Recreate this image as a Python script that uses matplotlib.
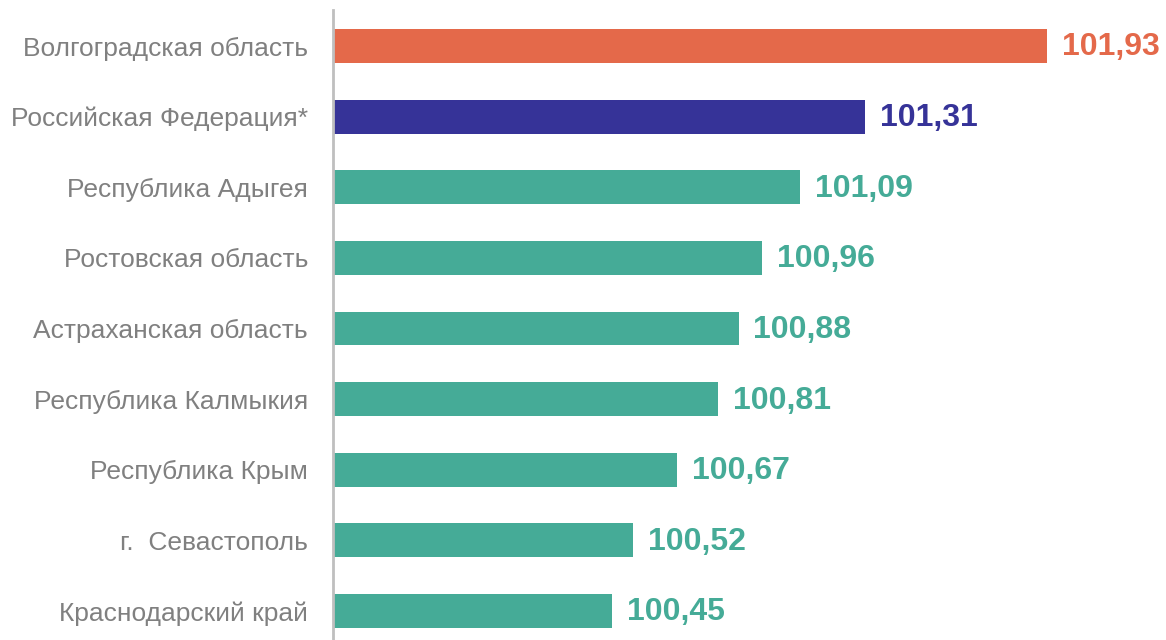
import numpy as np
import matplotlib
matplotlib.use('Agg')
import matplotlib.pyplot as plt

plt.rcParams['font.family'] = ['Liberation Sans', 'DejaVu Sans']

regions = ['Волгоградская область', 'Российская Федерация*', 'Республика Адыгея',
           'Ростовская область', 'Астраханская область', 'Республика Калмыкия',
           'Республика Крым', 'г.  Севастополь', 'Краснодарский край']
values = [101.93, 101.31, 101.09, 100.96, 100.88, 100.81, 100.67, 100.52, 100.45]
labels = ['101,93', '101,31', '101,09', '100,96', '100,88', '100,81', '100,67', '100,52', '100,45']
colors = ['#E4694A', '#363398'] + ['#45AB97'] * 7

x0 = 99.5
fig = plt.figure(figsize=(11.66, 6.4), dpi=100)
ax = fig.add_axes([333 / 1166, 0.0, 1 - 333 / 1166, 1 - 10 / 640])

y = np.arange(len(regions))
ax.barh(y, np.array(values) - x0, left=x0, height=0.48, color=colors)

for yi, v, lab, c in zip(y, values, labels, colors):
    ax.text(v + 0.05, yi + 0.02, lab, va='center', ha='left', fontsize=23,
            fontweight='bold', color=c)

ax.set_xlim(x0, 102.334)
ax.set_ylim(len(regions) - 1 + 0.41, -0.51)
ax.set_yticks(y)
ax.set_yticklabels(regions, fontsize=19, color='#808080')
ax.tick_params(axis='y', length=0, pad=18)
ax.set_xticks([])
for s in ['top', 'right', 'bottom']:
    ax.spines[s].set_visible(False)
ax.spines['left'].set_color('#BFBFBF')
ax.spines['left'].set_linewidth(2)

fig.savefig('out.png', dpi=100)
